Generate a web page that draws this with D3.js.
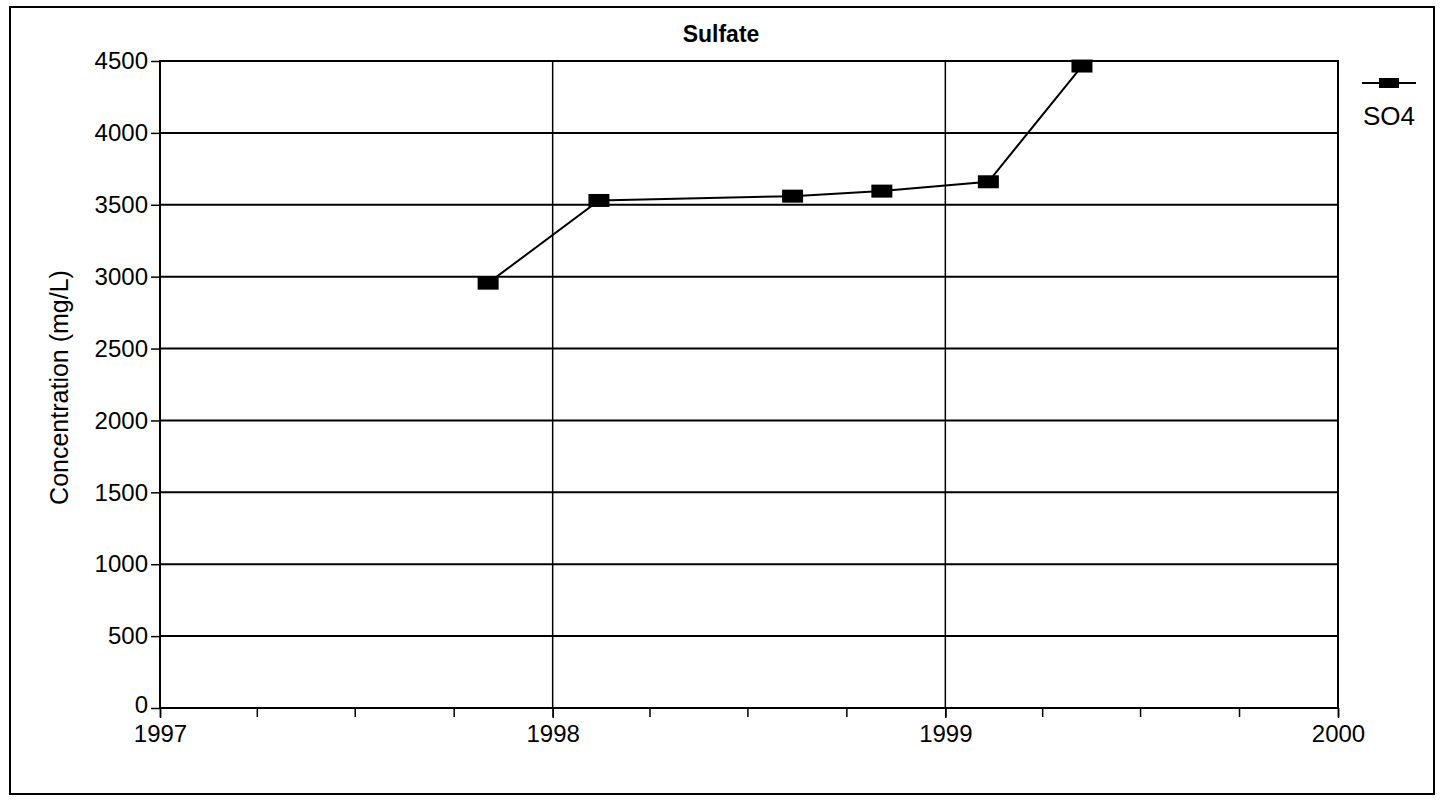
<!DOCTYPE html>
<html>
<head>
<meta charset="utf-8">
<script src="https://cdn.jsdelivr.net/npm/d3@7"></script>
<style>
  html, body { margin: 0; padding: 0; background: #fff; }
  svg { display: block; font-family: "Liberation Sans", Arial, Helvetica, sans-serif; }
</style>
</head>
<body>
<svg id="chart" width="1440" height="800"></svg>
<script>
// Sampling dates and sulfate concentrations (mg/L)
const sampleDates = ["1997-11-02", "1998-02-13", "1998-08-12", "1998-11-03", "1999-02-10", "1999-05-08"];
const so4Values = [2955, 3530, 3560, 3595, 3660, 4465];
const yTickValues = [0, 500, 1000, 1500, 2000, 2500, 3000, 3500, 4000, 4500];
const xTickYears = ["1997", "1998", "1999", "2000"];
const seriesName = "SO4";
const chartTitle = "Sulfate";
const yAxisTitle = "Concentration (mg/L)";

const parse = d3.timeParse("%Y-%m-%d");
const parseYear = d3.timeParse("%Y");
const data = sampleDates.map((d, i) => ({ date: parse(d), value: so4Values[i] }));

const svg = d3.select("#chart");
const m = { left: 160, right: 1338, top: 61, bottom: 708 };

// Outer frame
svg.append("rect")
  .attr("x", 10).attr("y", 7).attr("width", 1424).attr("height", 787)
  .attr("fill", "none").attr("stroke", "#000").attr("stroke-width", 2);

const x = d3.scaleTime()
  .domain([parseYear(xTickYears[0]), parseYear(xTickYears[xTickYears.length - 1])])
  .range([m.left, m.right]);
const y = d3.scaleLinear()
  .domain([0, d3.max(yTickValues)])
  .range([m.bottom, m.top]);

// Horizontal gridlines
svg.append("g")
  .selectAll("line")
  .data(yTickValues.filter(v => v > 0))
  .join("line")
  .attr("x1", m.left).attr("x2", m.right)
  .attr("y1", d => y(d)).attr("y2", d => y(d))
  .attr("stroke", "#000").attr("stroke-width", 2);

// Vertical gridlines at interior years
svg.append("g")
  .selectAll("line")
  .data(xTickYears.slice(1, -1).map(parseYear))
  .join("line")
  .attr("x1", d => x(d)).attr("x2", d => x(d))
  .attr("y1", m.top).attr("y2", m.bottom)
  .attr("stroke", "#000").attr("stroke-width", 1.5);

// Plot border
svg.append("rect")
  .attr("x", m.left).attr("y", m.top)
  .attr("width", m.right - m.left).attr("height", m.bottom - m.top)
  .attr("fill", "none").attr("stroke", "#000").attr("stroke-width", 2);

// Y axis
const yAxis = svg.append("g")
  .attr("transform", `translate(${m.left},0)`)
  .call(d3.axisLeft(y).tickValues(yTickValues).tickSize(9).tickPadding(3).tickFormat(d3.format("d")));
yAxis.select(".domain").remove();
yAxis.selectAll("line").attr("stroke", "#000").attr("stroke-width", 1.5);
yAxis.selectAll("text").attr("fill", "#000").attr("font-size", 24).attr("font-family", null);
// lift the zero label slightly so it clears the first year label
yAxis.selectAll("text").filter(d => d === 0).attr("dy", "0.2em");

// X axis: quarterly minor ticks, yearly labels
const minorTicks = x.ticks(d3.timeMonth.every(3));
const xMinor = svg.append("g")
  .attr("transform", `translate(0,${m.bottom})`)
  .call(d3.axisBottom(x).tickValues(minorTicks).tickSize(9).tickFormat(""));
xMinor.select(".domain").remove();
xMinor.selectAll("line").attr("stroke", "#000").attr("stroke-width", 1.5);

const xAxis = svg.append("g")
  .attr("transform", `translate(0,${m.bottom})`)
  .call(d3.axisBottom(x).tickValues(xTickYears.map(parseYear)).tickSize(10).tickPadding(7).tickFormat(d3.timeFormat("%Y")));
xAxis.select(".domain").remove();
xAxis.selectAll("line").attr("stroke", "#000").attr("stroke-width", 1.5);
xAxis.selectAll("text").attr("fill", "#000").attr("font-size", 24).attr("font-family", null);

// Titles
svg.append("text")
  .attr("x", 721).attr("y", 42)
  .attr("text-anchor", "middle")
  .attr("font-size", 23).attr("font-weight", "bold")
  .text(chartTitle);

svg.append("text")
  .attr("transform", `translate(68,${(m.top + m.bottom) / 2 + 3}) rotate(-90)`)
  .attr("text-anchor", "middle")
  .attr("font-size", 25)
  .text(yAxisTitle);

// Data line
svg.append("path")
  .datum(data)
  .attr("fill", "none").attr("stroke", "#000").attr("stroke-width", 2)
  .attr("d", d3.line().x(d => x(d.date)).y(d => y(d.value)));

// Rectangular markers
svg.append("g")
  .selectAll("rect")
  .data(data)
  .join("rect")
  .attr("x", d => x(d.date) - 10.5).attr("y", d => y(d.value) - 6.5)
  .attr("width", 21).attr("height", 13)
  .attr("fill", "#000");

// Legend
const lg = svg.append("g").attr("transform", "translate(1389,83)");
lg.append("line").attr("x1", -27).attr("x2", 27).attr("stroke", "#000").attr("stroke-width", 2);
lg.append("rect").attr("x", -10).attr("y", -5).attr("width", 20).attr("height", 10).attr("fill", "#000");
lg.append("text")
  .attr("x", 0).attr("y", 42)
  .attr("text-anchor", "middle")
  .attr("font-size", 26)
  .text(seriesName);
</script>
</body>
</html>
